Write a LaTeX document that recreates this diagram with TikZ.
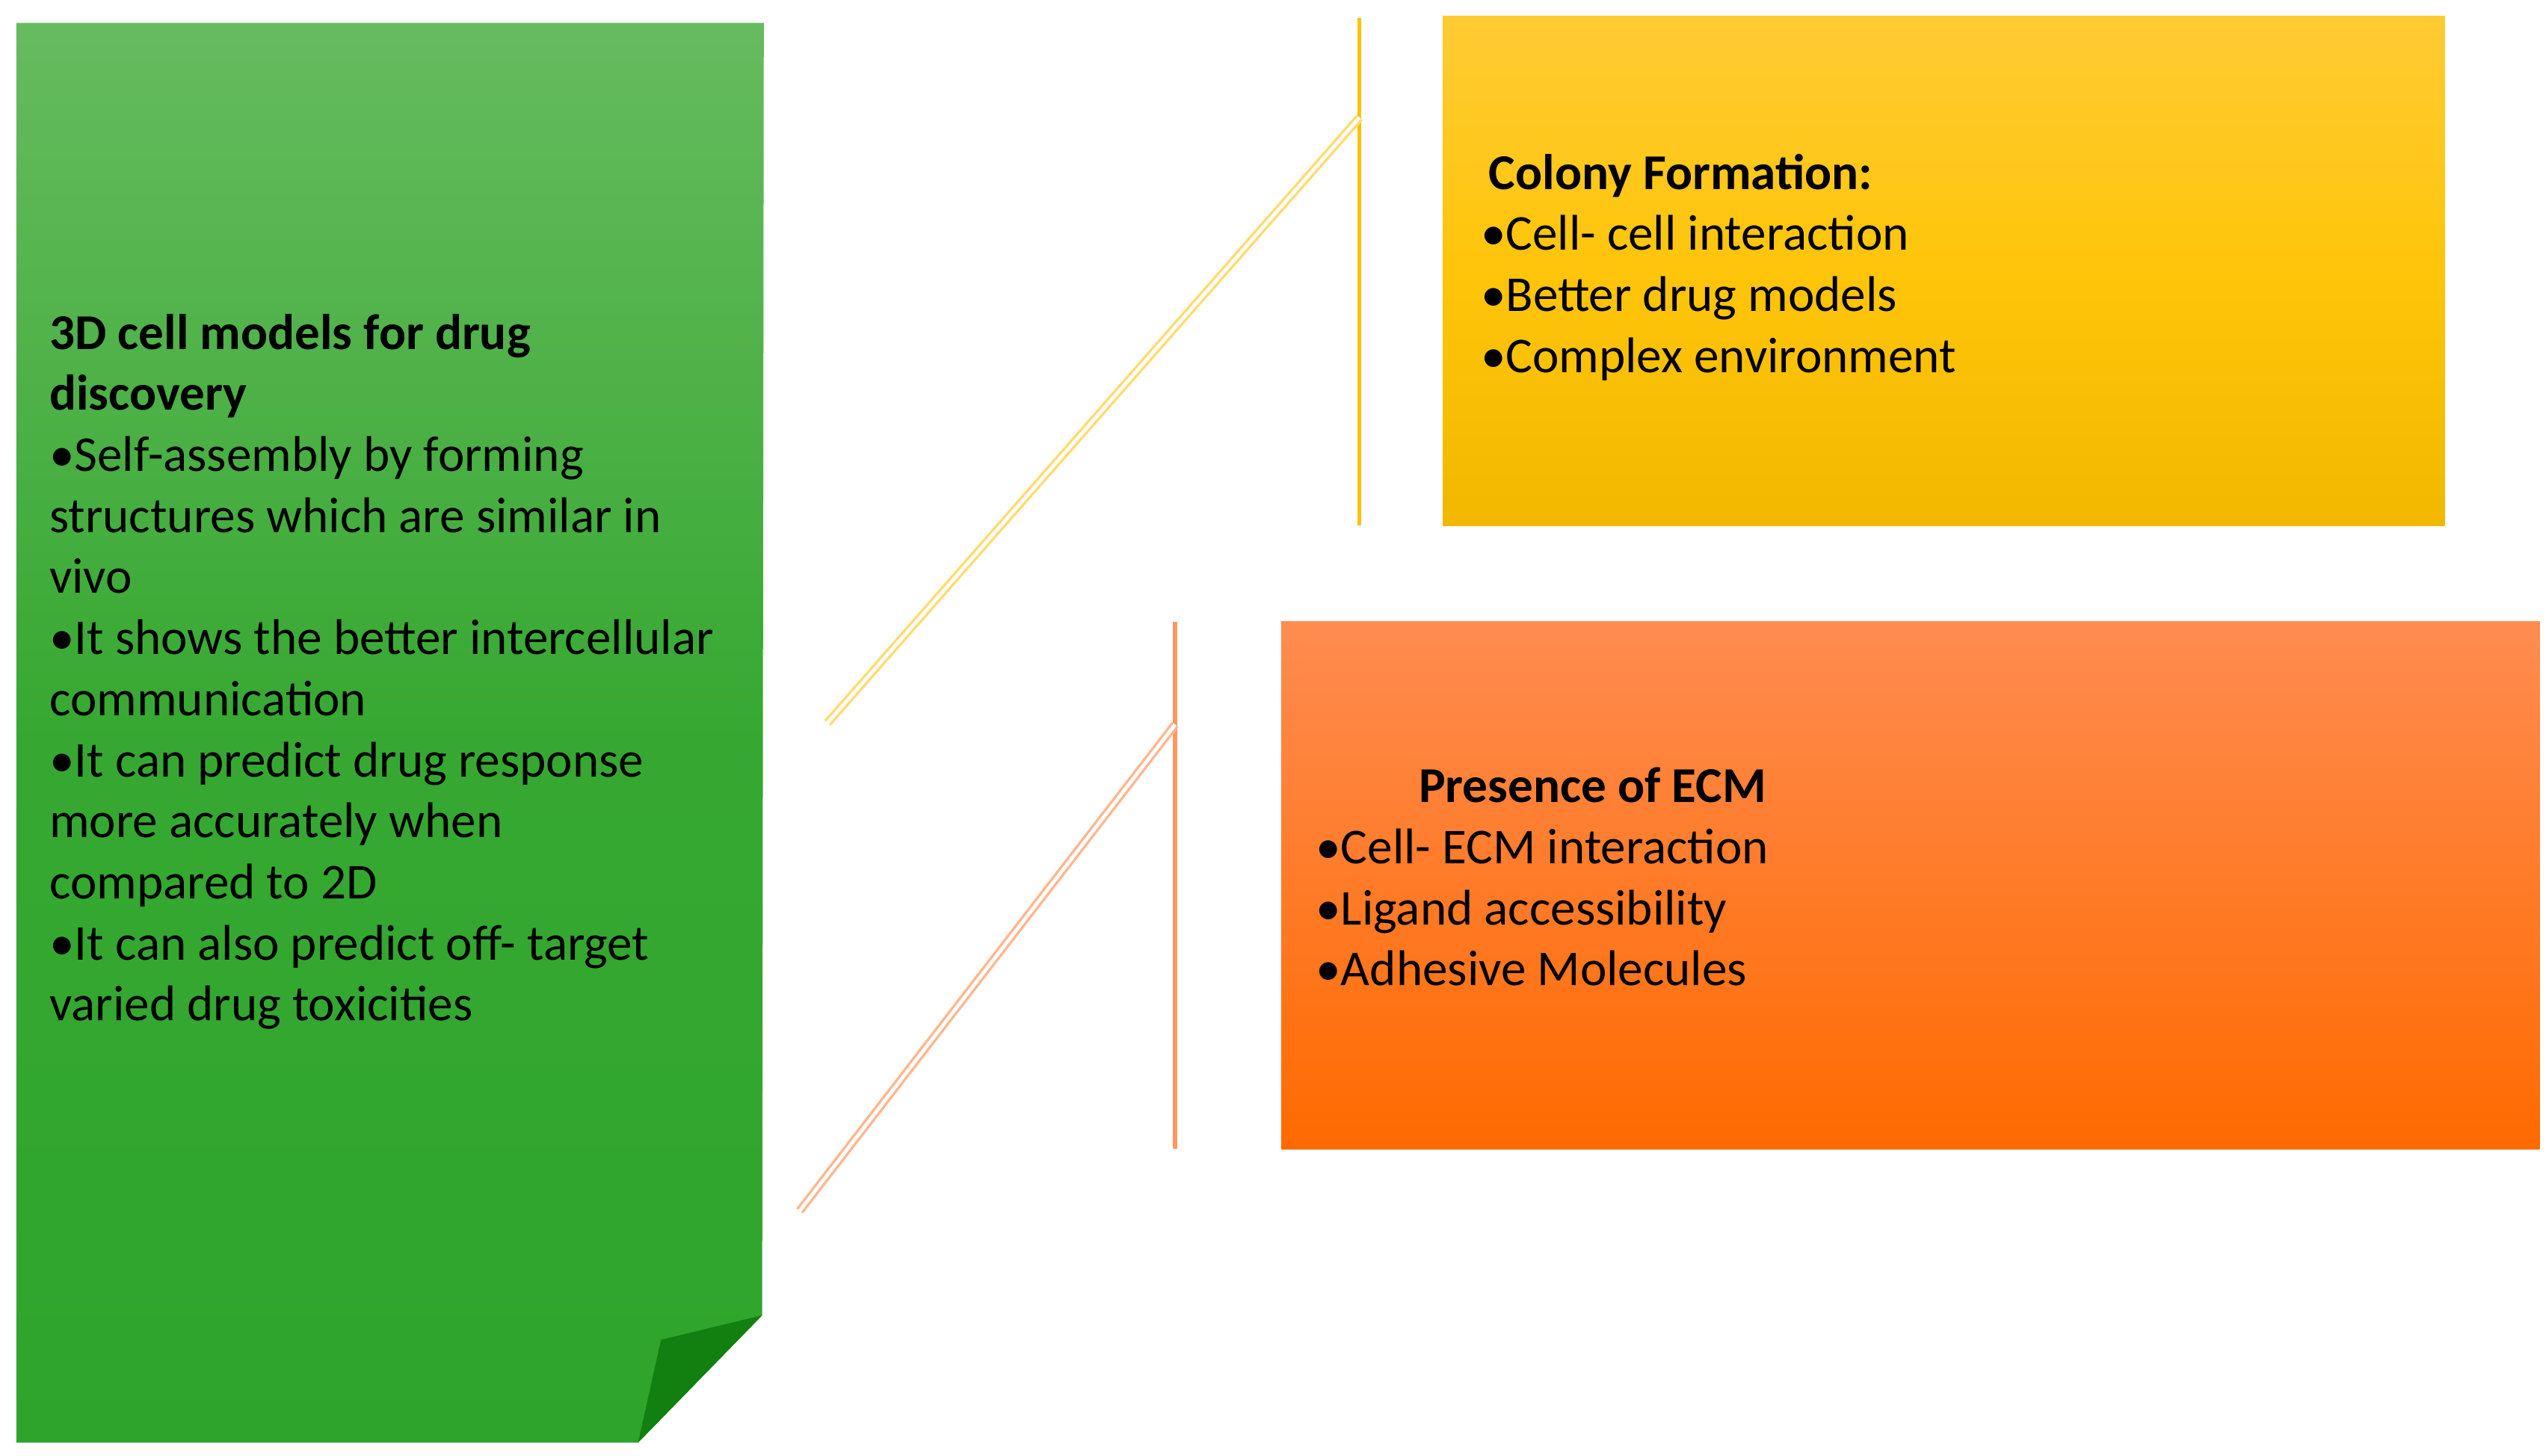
\documentclass[tikz,border=0pt]{standalone}
\usepackage{fontspec}
\setmainfont{Carlito}
\begin{document}
\begin{tikzpicture}[x=0.02cm,y=-0.02cm,
  txt/.style={anchor=north west,inner sep=0pt,align=left,font=\fontsize{17.5}{21.3}\selectfont},
  dline/.style={double=white,double distance=1.2pt,line width=0.9pt}]
\useasboundingbox (0,0) rectangle (1560,892);
\definecolor{gtop}{HTML}{66BB5E}\definecolor{gbot}{HTML}{2EA52A}
\definecolor{ytop}{HTML}{FFCB33}\definecolor{ymid}{HTML}{FFC50A}\definecolor{ybot}{HTML}{F2B800}
\definecolor{otop}{HTML}{FF8C50}\definecolor{obot}{HTML}{FF6A00}
\definecolor{yline}{HTML}{FFC000}\definecolor{oline}{HTML}{FF9860}
% green note
\shade[top color=gtop,bottom color=gbot,middle color=gbot!85!gtop] (10,14) -- (468,14) -- (467,806) -- (391,884) -- (10,884) -- cycle;
\fill[green!40!black!60!gbot] (467,806) -- (405,821) -- (391,884) -- cycle;
\node[txt] (g) at (30,192) {\textbf{3D cell models for drug}\\\textbf{discovery}\\•Self-assembly by forming\\structures which are similar in\\vivo\\•It shows the better intercellular\\communication\\•It can predict drug response\\more accurately when\\compared to 2D\\•It can also predict off- target\\varied drug toxicities};
% yellow box
\shade[top color=ytop,bottom color=ybot,middle color=ymid] (884,10) rectangle (1498,322);
\node[txt] (y) at (907,94) {\hspace*{0.1cm}\textbf{Colony Formation:}\\•Cell- cell interaction\\•Better drug models\\•Complex environment};
% orange box
\shade[top color=otop,bottom color=obot] (785,381) rectangle (1556,704);
\node[txt] (o) at (806,470) {\hspace*{1.26cm}\textbf{Presence of ECM}\\•Cell- ECM interaction\\•Ligand accessibility\\•Adhesive Molecules};
% lines
\coordinate (yt) at (833,11); \coordinate (yb) at (833,322);
\coordinate (yj) at (833,72); \coordinate (ye) at (507,443);
\draw[yline,line width=1.4pt] (yt) -- (yb);
\draw[dline,yline!55] (yj) -- (ye);
\coordinate (ot) at (720,381); \coordinate (ob) at (720,704);
\coordinate (oj) at (720,444); \coordinate (oe) at (490,742);
\draw[oline,line width=1.4pt] (ot) -- (ob);
\draw[dline,oline!70] (oj) -- (oe);
\end{tikzpicture}
\end{document}
